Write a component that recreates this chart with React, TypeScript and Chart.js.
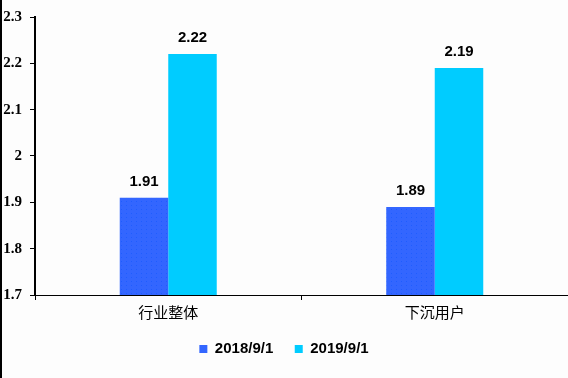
import React, { useEffect, useRef } from "react";
import { Chart, registerables } from "chart.js";

Chart.register(...registerables);

const categories = ["行业整体", "下沉用户"];
const seriesNames = ["2018/9/1", "2019/9/1"];
const values2018 = [1.91, 1.89];
const values2019 = [2.22, 2.19];
const yMin = 1.7;
const yMax = 2.3;
const yStep = 0.1;

const colorBlue = "#3366FF";
const colorCyan = "#00CCFF";

function makeDotPattern(): CanvasPattern | string {
  const c = document.createElement("canvas");
  c.width = 5;
  c.height = 4;
  const g = c.getContext("2d");
  if (!g) return colorBlue;
  g.fillStyle = colorBlue;
  g.fillRect(0, 0, 5, 4);
  g.fillStyle = "#1f5cff";
  g.fillRect(1, 1, 1, 1);
  const p = g.createPattern(c, "repeat");
  return p || colorBlue;
}

const bgPlugin = {
  id: "bgPlugin",
  beforeDraw(chart: any) {
    const { ctx, width, height } = chart;
    ctx.save();
    ctx.fillStyle = "#fdfdfd";
    ctx.fillRect(0, 0, width, height);
    ctx.fillStyle = "#000000";
    ctx.fillRect(0, 0, 2, height);
    ctx.restore();
  },
};

const labelPlugin = {
  id: "labelPlugin",
  afterDatasetsDraw(chart: any) {
    const { ctx } = chart;
    ctx.save();
    ctx.font = "bold 15px 'Liberation Sans', Arial, sans-serif";
    ctx.fillStyle = "#000000";
    ctx.textAlign = "center";
    ctx.textBaseline = "alphabetic";
    chart.data.datasets.forEach((ds: any, di: number) => {
      const meta = chart.getDatasetMeta(di);
      meta.data.forEach((el: any, i: number) => {
        const v = ds.data[i] as number;
        ctx.fillText(v.toFixed(2), el.x, el.y - 12);
      });
    });
    ctx.restore();
  },
};

export default function App() {
  const ref = useRef<HTMLCanvasElement | null>(null);

  useEffect(() => {
    if (!ref.current) return;
    const chart = new Chart(ref.current, {
      type: "bar",
      data: {
        labels: categories,
        datasets: [
          {
            label: seriesNames[0],
            data: values2018,
            backgroundColor: makeDotPattern() as any,
            borderWidth: 0,
          },
          {
            label: seriesNames[1],
            data: values2019,
            backgroundColor: colorCyan,
            borderWidth: 0,
          },
        ],
      },
      options: {
        animation: false,
        responsive: false,
        maintainAspectRatio: false,
        devicePixelRatio: 1,
        layout: { padding: { left: 0, right: 0, top: 14, bottom: 11.5 } },
        datasets: {
          bar: { categoryPercentage: 0.364, barPercentage: 1 },
        },
        plugins: {
          legend: {
            position: "bottom",
            labels: {
              boxWidth: 8,
              boxHeight: 8,
              padding: 21.5,
              color: "#000000",
              font: { family: "'Liberation Sans', Arial, sans-serif", size: 15, weight: "bold" },
              generateLabels: (chart: any) =>
                chart.data.datasets.map((ds: any, i: number) => ({
                  text: ds.label,
                  fillStyle: i === 0 ? colorBlue : colorCyan,
                  strokeStyle: i === 0 ? colorBlue : colorCyan,
                  lineWidth: 0,
                  datasetIndex: i,
                  hidden: false,
                })),
            },
          },
          tooltip: { enabled: false },
        },
        scales: {
          x: {
            offset: true,
            grid: {
              display: true,
              offset: true,
              drawOnChartArea: false,
              drawTicks: true,
              tickLength: 5,
              color: "#000000",
            },
            border: { display: true, color: "#000000", width: 1 },
            ticks: {
              color: "#000000",
              padding: 5,
              font: { family: "'Noto Sans CJK SC', sans-serif", size: 15, lineHeight: 1 },
            },
            afterFit: (scale: any) => {
              scale.height = 25;
            },
          },
          y: {
            min: yMin,
            max: yMax,
            grid: {
              display: true,
              drawOnChartArea: false,
              drawTicks: true,
              tickLength: 5,
              color: "#000000",
            },
            border: { display: true, color: "#000000", width: 2 },
            ticks: {
              stepSize: yStep,
              color: "#000000",
              padding: 8,
              font: { family: "'Liberation Serif', 'Times New Roman', serif", size: 15, weight: "bold" },
              callback: (v: any) => String(Number(Number(v).toFixed(2))),
            },
            afterFit: (scale: any) => {
              scale.width = 35;
            },
          },
        },
      },
      plugins: [bgPlugin, labelPlugin],
    });
    return () => chart.destroy();
  }, []);

  return (
    <div style={{ position: "fixed", left: 0, top: 0, width: 568, height: 378 }}>
      <canvas ref={ref} width={568} height={378} style={{ width: 568, height: 378, display: "block" }} />
    </div>
  );
}
